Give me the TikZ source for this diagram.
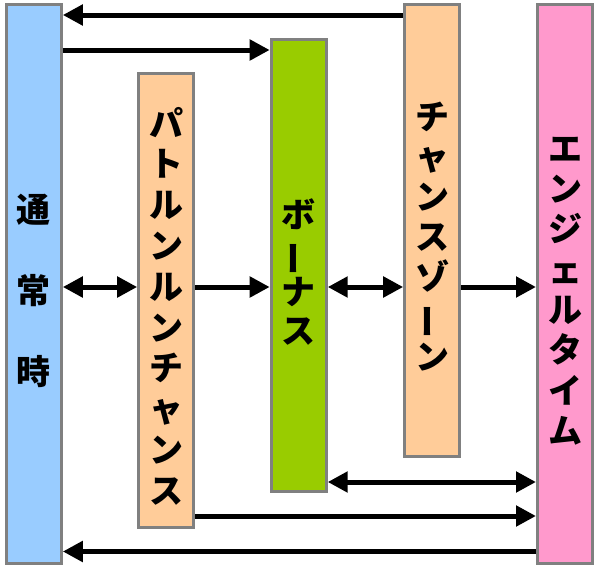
\documentclass[tikz,border=0pt]{standalone}
\usepackage{fontspec}
\usepackage{graphicx}
\newfontfamily\jpfont{Noto Sans CJK JP}
\usetikzlibrary{arrows.meta}
\definecolor{cblue}{HTML}{99CCFF}
\definecolor{corange}{HTML}{FFCC99}
\definecolor{cgreen}{HTML}{99CC00}
\definecolor{cpink}{HTML}{FF99CC}
\definecolor{cgray}{HTML}{808080}
\newcommand\vchoon{\rotatebox[origin=c]{90}{ー}}
\begin{document}
\begin{tikzpicture}[x=1pt,y=-1pt,
  box/.style={draw=cgray, line width=3pt, inner sep=0pt, minimum width=55pt},
  arr/.style={line width=5pt, -{Triangle[length=20pt,width=20pt]}},
  darr/.style={line width=5pt, {Triangle[length=20pt,width=20pt]}-{Triangle[length=20pt,width=20pt]}},
  vtext/.style={align=center, inner sep=0pt}]
\useasboundingbox (0,0) rectangle (600,568);
% boxes
\node[box, fill=cblue,   minimum height=559pt] (n) at (33.8,284) {};
\node[box, fill=corange, minimum height=454pt] (p) at (166.2,300.5) {};
\node[box, fill=cgreen,  minimum height=452pt] (b) at (298.7,265.7) {};
\node[box, fill=corange, minimum height=452pt] (c) at (432.2,230.6) {};
\node[box, fill=cpink,   minimum height=559pt] (e) at (565,284) {};
% texts
\node[vtext, font=\jpfont\bfseries\fontsize{34}{81}\selectfont] (tn) at (33.8,291) {通\\常\\時};
\node[vtext, font=\jpfont\bfseries\fontsize{34}{40.8}\selectfont] (tp) at (166.2,306) {パ\\ト\\ル\\ン\\ル\\ン\\チ\\ャ\\ン\\ス};
\node[vtext, font=\jpfont\bfseries\fontsize{34}{38.5}\selectfont] (tb) at (298.7,272) {ボ\\\vchoon\\ナ\\ス};
\node[vtext, font=\jpfont\bfseries\fontsize{34}{40}\selectfont] (tc) at (432.2,237) {チ\\ャ\\ン\\ス\\ゾ\\\vchoon\\ン};
\node[vtext, font=\jpfont\bfseries\fontsize{34}{40.3}\selectfont] (te) at (565,291) {エ\\ン\\ジ\\ェ\\ル\\タ\\イ\\ム};
% connectors
\draw[arr]  (c.west |- 0,15)    -- (n.east |- 0,15);
\draw[arr]  (n.east |- 0,50)    -- (b.west |- 0,50);
\draw[darr] (n.east |- 0,287)   -- (p.west |- 0,287);
\draw[arr]  (p.east |- 0,287)   -- (b.west |- 0,287);
\draw[darr] (b.east |- 0,287)   -- (c.west |- 0,287);
\draw[arr]  (c.east |- 0,287)   -- (e.west |- 0,287);
\draw[darr] (b.east |- 0,482)   -- (e.west |- 0,482);
\draw[arr]  (p.east |- 0,516)   -- (e.west |- 0,516);
\draw[arr]  (e.west |- 0,551.5) -- (n.east |- 0,551.5);
\end{tikzpicture}
\end{document}
